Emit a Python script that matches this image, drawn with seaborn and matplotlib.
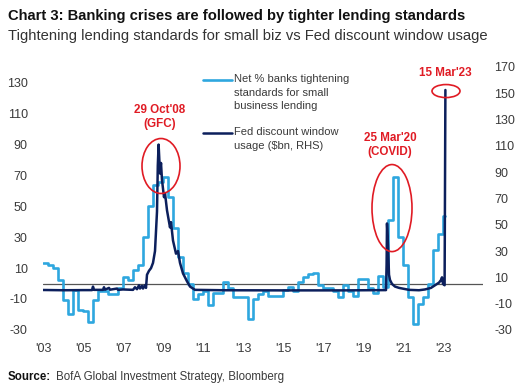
import matplotlib
matplotlib.use("Agg")
import matplotlib.pyplot as plt
import numpy as np
import pandas as pd
import seaborn as sns
from matplotlib.lines import Line2D
from matplotlib.patches import Ellipse

# Net % of banks tightening standards for small business loans (quarterly, LHS)
lending_quarters = pd.period_range("2003Q1", "2023Q1", freq="Q")
lending_pct = [
    13, 12, 10, 2,
    -11, -20, -4, -17,
    -18, -25, -11, -5,
    -5, -7, -7, -3,
    4, 2, 9, 12,
    30, 50, 64, 66,
    69, 56, 36, 17,
    7, 0, -10, -7,
    -5, -14, -6, -6,
    1, -3, -9, -9,
    -9, -23, -10, -7,
    -5, -8, -8, -8,
    -4, -2, -5, 1,
    4, 6, 7, -1,
    -3, -3, -5, -9,
    -1, -5, -8, 3,
    3, -3, -6, 5,
    -2, 41, 69, 30,
    12, -9, -26, -13,
    -9, 0, 22, 32,
    44,
]
lending_end = 2023.12

# Fed discount window usage ($bn, RHS)
window_years = [
    2003.0, 2004.0, 2005.0, 2005.45, 2005.5, 2005.55, 2006.0, 2006.05, 2006.1,
    2006.3, 2006.35, 2006.7, 2006.75, 2007.0, 2007.5, 2007.6, 2007.7, 2007.8,
    2007.85, 2007.95, 2008.0, 2008.1, 2008.15, 2008.2, 2008.3, 2008.4, 2008.5,
    2008.6, 2008.7, 2008.74, 2008.78, 2008.85, 2008.9, 2008.95, 2009.05,
    2009.1, 2009.2, 2009.35, 2009.4, 2009.5, 2009.65, 2009.75, 2009.85,
    2010.0, 2010.2, 2010.35, 2010.6, 2012.0, 2015.0, 2018.0, 2020.15,
    2020.18, 2020.2, 2020.25, 2020.3, 2020.35, 2020.45, 2020.6, 2020.8,
    2021.3, 2021.8, 2022.1, 2022.4, 2022.6, 2022.8, 2022.9, 2022.95,
    2023.0, 2023.08, 2023.12,
]
window_bn = [
    0.4, 0.2, 0.3, 0.3, 3, 0.5, 0.5, 2.5, 0.6,
    2, 0.6, 1.5, 0.5, 0.8, 0.5, 2.5, 1, 4,
    1.5, 3.5, 1.5, 4, 2, 12, 15, 17, 21,
    30, 60, 95, 111, 89, 97, 84, 71,
    74, 61, 48, 52, 38, 28, 30, 21,
    13, 7, 3, 0.5, 0.2, 0.1, 0.1, 0.3,
    20, 51, 35, 12, 8, 5, 3, 2,
    0.5, 0.2, 0.8, 2, 4, 6, 8, 10,
    5, 4, 152.5,
]

year_ticks = list(range(2003, 2024, 2))
year_labels = ["'03", "'05", "'07", "'09", "'11", "'13", "'15", "'17", "'19", "'21", "'23"]
left_ticks = list(range(-30, 131, 20))
right_ticks = list(range(-30, 171, 20))

LIGHT = "#2ea7df"
NAVY = "#0c1f5c"
RED = "#e01b24"
TEXT = "#3a3a3a"

sns.set_style("white")
plt.rcParams["font.family"] = ["Liberation Sans", "DejaVu Sans"]
plt.rcParams["axes.unicode_minus"] = False

lend_x = [p.year + (p.quarter - 1) / 4 for p in lending_quarters] + [lending_end]
lend_y = lending_pct + [lending_pct[-1]]

fig = plt.figure(figsize=(5.2, 3.87), dpi=100)
ax = fig.add_axes([43 / 520, 1 - 336 / 387, 440 / 520, 274 / 387])
ax2 = ax.twinx()

ax.axhline(0, color="#555555", lw=0.9, zorder=0)
sns.lineplot(x=lend_x, y=lend_y, ax=ax, color=LIGHT, lw=1.9,
             drawstyle="steps-post", estimator=None, legend=False)
sns.lineplot(x=window_years, y=window_bn, ax=ax2, color=NAVY, lw=1.8,
             estimator=None, legend=False)

ax.set_xlim(2003, 2025)
ax.set_ylim(-34, 143.5)
ax2.set_ylim(-34.6, 173.8)
ax.set_xticks(year_ticks)
ax.set_xticklabels(year_labels)
ax.set_yticks(left_ticks)
ax2.set_yticks(right_ticks)
for a in (ax, ax2):
    a.set_xlabel("")
    a.set_ylabel("")
    for s in a.spines.values():
        s.set_visible(False)
ax.tick_params(axis="y", length=0, pad=11, labelsize=9, labelcolor=TEXT)
ax.tick_params(axis="x", length=0, pad=5, labelsize=9, labelcolor=TEXT)
ax2.tick_params(axis="y", length=0, pad=8, labelsize=9, labelcolor=TEXT)

# crisis call-outs
callouts = [
    ((2008.9, 94.7), 1.9, 41.8, (2008.85, 131.9), "29 Oct'08\n(GFC)"),
    ((2020.45, 62.7), 2.0, 66.2, (2020.35, 110.6), "25 Mar'20\n(COVID)"),
    ((2023.15, 151.7), 1.4, 9.9, (2023.1, 165.4), "15 Mar'23"),
]
for centre, w, h, pos, label in callouts:
    ax2.add_patch(Ellipse(centre, w, h, fill=False, ec=RED, lw=1.2, zorder=5))
    ax2.text(pos[0], pos[1], label, ha="center", va="center", color=RED,
             fontsize=8.4, fontweight="bold", linespacing=1.15)

# legend
fig.add_artist(Line2D([203 / 520, 232 / 520], [1 - 80 / 387] * 2, color=LIGHT, lw=1.9))
fig.add_artist(Line2D([203 / 520, 232 / 520], [1 - 133 / 387] * 2, color=NAVY, lw=1.8))
fig.text(234 / 520, 1 - 74 / 387, "Net % banks tightening\nstandards for small\nbusiness lending",
         va="top", ha="left", fontsize=8, color=TEXT, linespacing=1.45)
fig.text(234 / 520, 1 - 127 / 387, "Fed discount window\nusage ($bn, RHS)",
         va="top", ha="left", fontsize=8, color=TEXT, linespacing=1.45)

fig.text(8 / 520, 1 - 16 / 387, "Chart 3: Banking crises are followed by tighter lending standards",
         fontsize=10.6, fontweight="bold", color="#111111", va="center")
fig.text(8 / 520, 1 - 36 / 387, "Tightening lending standards for small biz vs Fed discount window usage",
         fontsize=10.6, color="#333333", va="center")
fig.text(8 / 520, 1 - 377 / 387, "Source:", fontsize=8.3, fontweight="bold", color="#111111", va="center")
fig.text(56 / 520, 1 - 377 / 387, "BofA Global Investment Strategy, Bloomberg",
         fontsize=8.3, color=TEXT, va="center")

fig.savefig("out.png", dpi=100)
